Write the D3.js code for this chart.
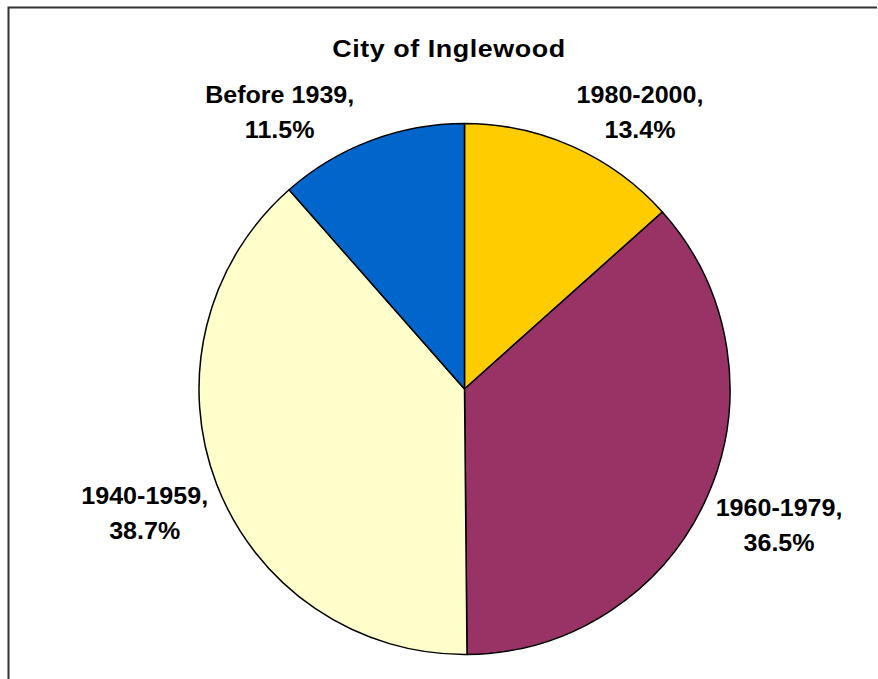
<!DOCTYPE html>
<html>
<head>
<meta charset="utf-8">
<script src="https://cdn.jsdelivr.net/npm/d3@7/dist/d3.min.js"></script>
<style>
  html, body { margin: 0; padding: 0; background: #fff; }
  svg { display: block; }
  text { font-family: "Liberation Sans", Arial, sans-serif; font-weight: bold; fill: #000; }
</style>
</head>
<body>
<svg id="chart" width="878" height="679"></svg>
<script>
// Housing units by year built, City of Inglewood (percent of total)
const title = "City of Inglewood";
const periods = ["1980-2000", "1960-1979", "1940-1959", "Before 1939"];
const shares = [13.4, 36.5, 38.7, 11.5];
const sliceColors = ["#FFCC00", "#993366", "#FFFFCC", "#0066CC"];

const W = 878, H = 679;
const cx = 464.5, cy = 389, R = 265.5;
const widen = 1.09; // glyph width factor for the bold text

const svg = d3.select("#chart");

// chart area frame (left and top edges visible)
svg.append("path")
  .attr("d", `M8.5,${H} V7.5 H877`)
  .attr("fill", "none")
  .attr("stroke", "#333")
  .attr("stroke-width", 2);

const titleText = svg.append("text")
  .attr("transform", `translate(449,57) scale(${widen + 0.03},1)`)
  .attr("text-anchor", "middle")
  .style("font-size", "24px")
  .style("letter-spacing", "0.5px")
  .text(title);

// title extent relative to the pie centre, used to keep labels clear of it
const tb = titleText.node().getBoundingClientRect();
const titleBox = { left: tb.left - cx, right: tb.right - cx, bottom: 62 - cy };

const data = periods.map((p, i) => ({ period: p, value: shares[i], color: sliceColors[i] }));

const pie = d3.pie().value(d => d.value).sort(null);
const arc = d3.arc().innerRadius(0).outerRadius(R);
const arcs = pie(data);

const g = svg.append("g").attr("transform", `translate(${cx},${cy})`);

g.selectAll("path.slice")
  .data(arcs)
  .join("path")
  .attr("class", "slice")
  .attr("d", arc)
  .attr("fill", d => d.data.color)
  .attr("stroke", "#000")
  .attr("stroke-width", 1.5)
  .attr("stroke-linejoin", "round");

// Data labels: the label corner nearest the pie sits just outside the rim
// at the slice's mid angle; labels that would crowd the title swing away from the top.
const rimGap = 9;
const lineGap = 35;
const capH = 16.5;
const marginX = 19, marginY = 24;

arcs.forEach(d => {
  let a = (d.startAngle + d.endAngle) / 2;

  const t = g.append("text")
    .attr("text-anchor", "middle")
    .style("font-size", "23px");
  const l1 = t.append("tspan").attr("x", 0).attr("y", 0).text(d.data.period + ",");
  const l2 = t.append("tspan").attr("x", 0).attr("y", lineGap).text(d3.format(".1f")(d.data.value) + "%");

  const w = widen * Math.max(l1.node().getComputedTextLength(), l2.node().getComputedTextLength());
  const h = capH + lineGap;
  const rc = R + rimGap;

  const place = ang => {
    const px = rc * Math.sin(ang), py = -rc * Math.cos(ang);
    const left = Math.sin(ang) >= 0 ? px : px - w;
    const top = Math.cos(ang) >= 0 ? py - h : py;
    return { left, right: left + w, top };
  };
  const crowds = b =>
    b.top < titleBox.bottom + marginY &&
    b.left < titleBox.right + marginX &&
    b.right > titleBox.left - marginX;

  let b = place(a);
  const step = (Math.sin(a) >= 0 ? 1 : -1) * Math.PI / 720;
  let guard = 0;
  while (crowds(b) && guard++ < 400) { a += step; b = place(a); }

  t.attr("transform", `translate(${b.left + w / 2},${b.top + capH}) scale(${widen},1)`);
});
</script>
</body>
</html>
